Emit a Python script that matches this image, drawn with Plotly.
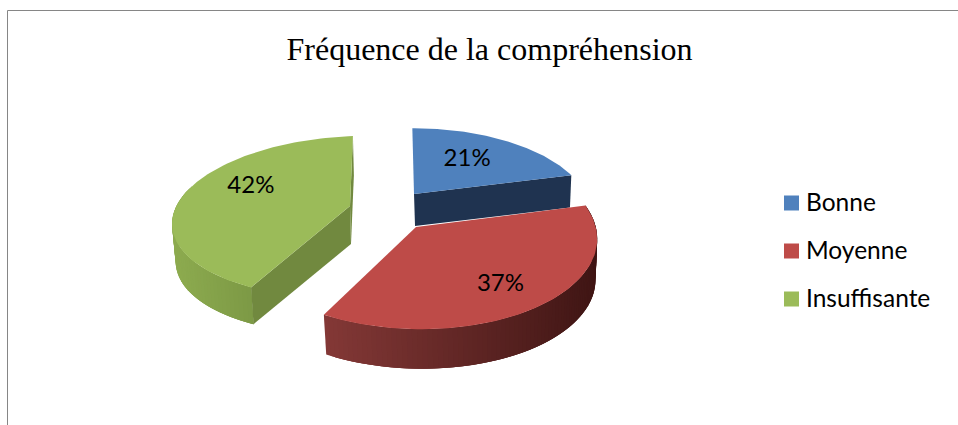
import numpy as np
import plotly.graph_objects as go

# ---- data ----
categories = ["Bonne", "Moyenne", "Insuffisante"]
values = [21, 37, 42]
title_text = "Fréquence de la compréhension"

# ---- styles / projection ----
top_colors = ["#4F81BD", "#BE4B48", "#9BBB59"]
cut_colors = ["#1F3350", "#5A2220", "#71893F"]
wall_left = ["#2A4568", "#833836", "#8DAB4F"]
wall_right = ["#2A4568", "#3F1514", "#7C9945"]
legend_colors = top_colors
apex = [(414, 194), (416, 227), (350, 206)]
proj = [
    dict(rx=171, ry=79, s=-2, t=0, k=0.2, depth=32, lab=0.56, nudge=(0, -2), faces=("end",)),
    dict(rx=180, ry=92, s=-3, t=1, k=0.1, depth=41, lab=0.62, nudge=(11, 10), faces=()),
    dict(rx=176, ry=79, s=3.3, t=-6, k=0.13, depth=38, lab=0.62, nudge=(4, -11), faces=("start", "end")),
]
BOTTOM_SCALE = 0.985


def project(i, th, f=1.0, bottom=False):
    """Clockwise angle from north (radians) -> chart position for slice i."""
    p = proj[i]
    X, Y = f * np.sin(th), f * np.cos(th)
    w = 1 + p["k"] * Y
    dx = (p["rx"] * X + p["s"] * Y) / w
    dy = (-p["ry"] * Y + p["t"] * X) / w
    ax, ay = apex[i]
    if bottom:
        return ax + 1 + dx * BOTTOM_SCALE, ay + p["depth"] + dy * BOTTOM_SCALE
    return ax + dx, ay + dy


def mix(c1, c2, u):
    a = [int(c1[j:j + 2], 16) for j in (1, 3, 5)]
    b = [int(c2[j:j + 2], 16) for j in (1, 3, 5)]
    return "rgb(%d,%d,%d)" % tuple(round(a[j] + (b[j] - a[j]) * u) for j in range(3))


def poly(xs, ys, color, width=0.0):
    return go.Scatter(x=list(xs), y=list(ys), mode="lines", fill="toself", fillcolor=color,
                      line=dict(color=color, width=width), hoverinfo="skip", showlegend=False)


fig = go.Figure()
fractions = np.array(values, dtype=float) / sum(values)
ends = np.cumsum(fractions) * 2 * np.pi
starts = ends - fractions * 2 * np.pi
mids = (starts + ends) / 2

for i in [0, 2, 1]:  # far slice first, red on top
    a0, a1 = starts[i], ends[i]
    grid = np.linspace(a0, a1, 91)
    vis = [g for g in grid if np.cos(g) < 0.35 and i != 0]
    if vis:
        xref = [project(i, g)[0] for g in vis]
        x0, x1 = min(xref), max(xref)
        # strips run left to right so each one overlaps its neighbour
        if project(i, vis[0])[0] > project(i, vis[-1])[0]:
            vis = vis[::-1]
        for n in range(0, len(vis) - 1):
            g0, g1 = vis[n], vis[min(n + 3, len(vis) - 1)]
            sub = np.linspace(g0, g1, 4)
            tp = [project(i, g) for g in sub]
            bp = [project(i, g, bottom=True) for g in sub[::-1]]
            u = (project(i, vis[n])[0] - x0) / (x1 - x0)
            fig.add_trace(poly([q[0] for q in tp + bp], [q[1] for q in tp + bp],
                               mix(wall_left[i], wall_right[i], u)))
    ax, ay = project(i, 0, f=0)
    bax, bay = project(i, 0, f=0, bottom=True)
    for name, a in (("start", a0), ("end", a1)):
        if name in proj[i]["faces"]:
            tx, ty = project(i, a)
            bx, by = project(i, a, bottom=True)
            fig.add_trace(poly([ax, tx, bx, bax, ax], [ay, ty, by, bay, ay], cut_colors[i]))
    tx, ty = zip(*[project(i, g) for g in grid])
    fig.add_trace(poly([ax, *tx, ax], [ay, *ty, ay], top_colors[i]))

# percentage labels
lab_pts = [project(i, mids[i], f=proj[i]["lab"]) for i in range(len(values))]
fig.add_trace(go.Scatter(
    x=[q[0] + proj[i]["nudge"][0] for i, q in enumerate(lab_pts)],
    y=[q[1] + proj[i]["nudge"][1] for i, q in enumerate(lab_pts)], mode="text",
    text=[f"{v}%" for v in values], textposition="middle center",
    textfont=dict(family="Lato", size=24, color="#000000"), hoverinfo="skip", showlegend=False))

# legend
leg_y = [203 + 48 * n for n in range(len(categories))]
fig.add_trace(go.Scatter(
    x=[791.5] * len(categories), y=leg_y, mode="markers", showlegend=False, hoverinfo="skip",
    marker=dict(symbol="square", size=15, color=legend_colors, line=dict(width=0))))
fig.add_trace(go.Scatter(
    x=[806] * len(categories), y=[v + 2 for v in leg_y], mode="text", text=categories,
    textposition="middle right",
    textfont=dict(family="Lato", size=24.5, color="#000000"), hoverinfo="skip", showlegend=False))

axis = dict(visible=False, fixedrange=True)
fig.update_layout(
    width=958, height=425, margin=dict(l=0, r=0, t=0, b=0),
    paper_bgcolor="white", plot_bgcolor="white", showlegend=False,
    xaxis=dict(range=[0, 958], **axis), yaxis=dict(range=[425, 0], **axis),
    title=dict(text=title_text, x=489.5 / 958, xanchor="center", y=1 - 49 / 425, yanchor="middle",
               font=dict(family="Liberation Serif", size=32, color="#000000")),
    shapes=[dict(type="path", path="M 7.5 425 L 7.5 10.5 L 958 10.5", xref="x", yref="y",
                 line=dict(color="#868686", width=1))],
)
fig.write_html("out.html", config=dict(displayModeBar=False),
               post_script="document.body.style.margin='0';document.body.style.overflow='hidden';")
